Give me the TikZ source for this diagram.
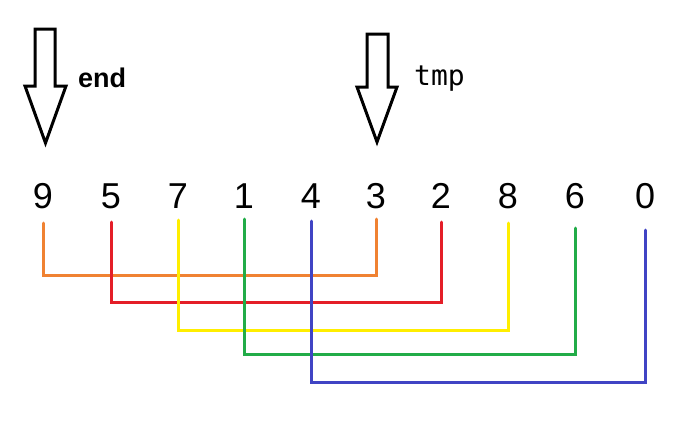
\documentclass[tikz,border=0pt]{standalone}
\usepackage{fontspec}
\setmainfont{Liberation Sans}
\newfontfamily\codefont{DejaVu Sans Mono}
\definecolor{linkorange}{RGB}{240,130,50}
\definecolor{linkred}{RGB}{228,30,40}
\definecolor{linkyellow}{RGB}{255,238,0}
\definecolor{linkgreen}{RGB}{34,172,72}
\definecolor{linkblue}{RGB}{64,68,196}
\begin{document}
\begin{tikzpicture}[x=1pt,y=-1pt,line cap=round,line join=miter]
\tikzset{digit/.style={font=\fontsize{36}{36}\selectfont,inner sep=0pt},
link/.style={line width=3pt},
pointer/.style={draw=black,line width=3pt,line cap=butt},
tag/.style={anchor=base west,inner sep=0pt}
}
\useasboundingbox (0,0) rectangle (679,423);
% the array
\foreach \v/\x [count=\i] in {9/43,5/111,7/178,1/244,4/311,3/376,2/441,8/508,6/575,0/645}
  \node[digit] (n\i) at (\x,196) {\v};
% pointers
\foreach \l/\r/\wl/\wr/\t/\s/\e in {35/55/25/66/29/86/143, 367/388/357/397/34/87/142}
  \draw[pointer] (\l,\t)--(\l,\s)--(\wl,\s)--({(\wl+\wr)/2},\e)--(\wr,\s)--(\r,\s)--(\r,\t)--cycle;
\node[tag,font=\fontsize{27}{27}\selectfont\bfseries] (endtag) at (78,87) {end};
\node[tag,font=\codefont\fontsize{28}{28}\selectfont] (tmptag) at (414,85) {tmp};
% pairs
\foreach \a/\b/\c/\ya/\yb/\h in {1/6/linkorange/223/219/275, 2/7/linkred/222/222/302,
  3/8/linkyellow/220/223/330, 4/9/linkgreen/219/228/354, 5/10/linkblue/221/230/382}
  \draw[link,\c] (n\a |- 0,\ya) |- (n\b |- 0,\h) -- (n\b |- 0,\yb);
\end{tikzpicture}
\end{document}
